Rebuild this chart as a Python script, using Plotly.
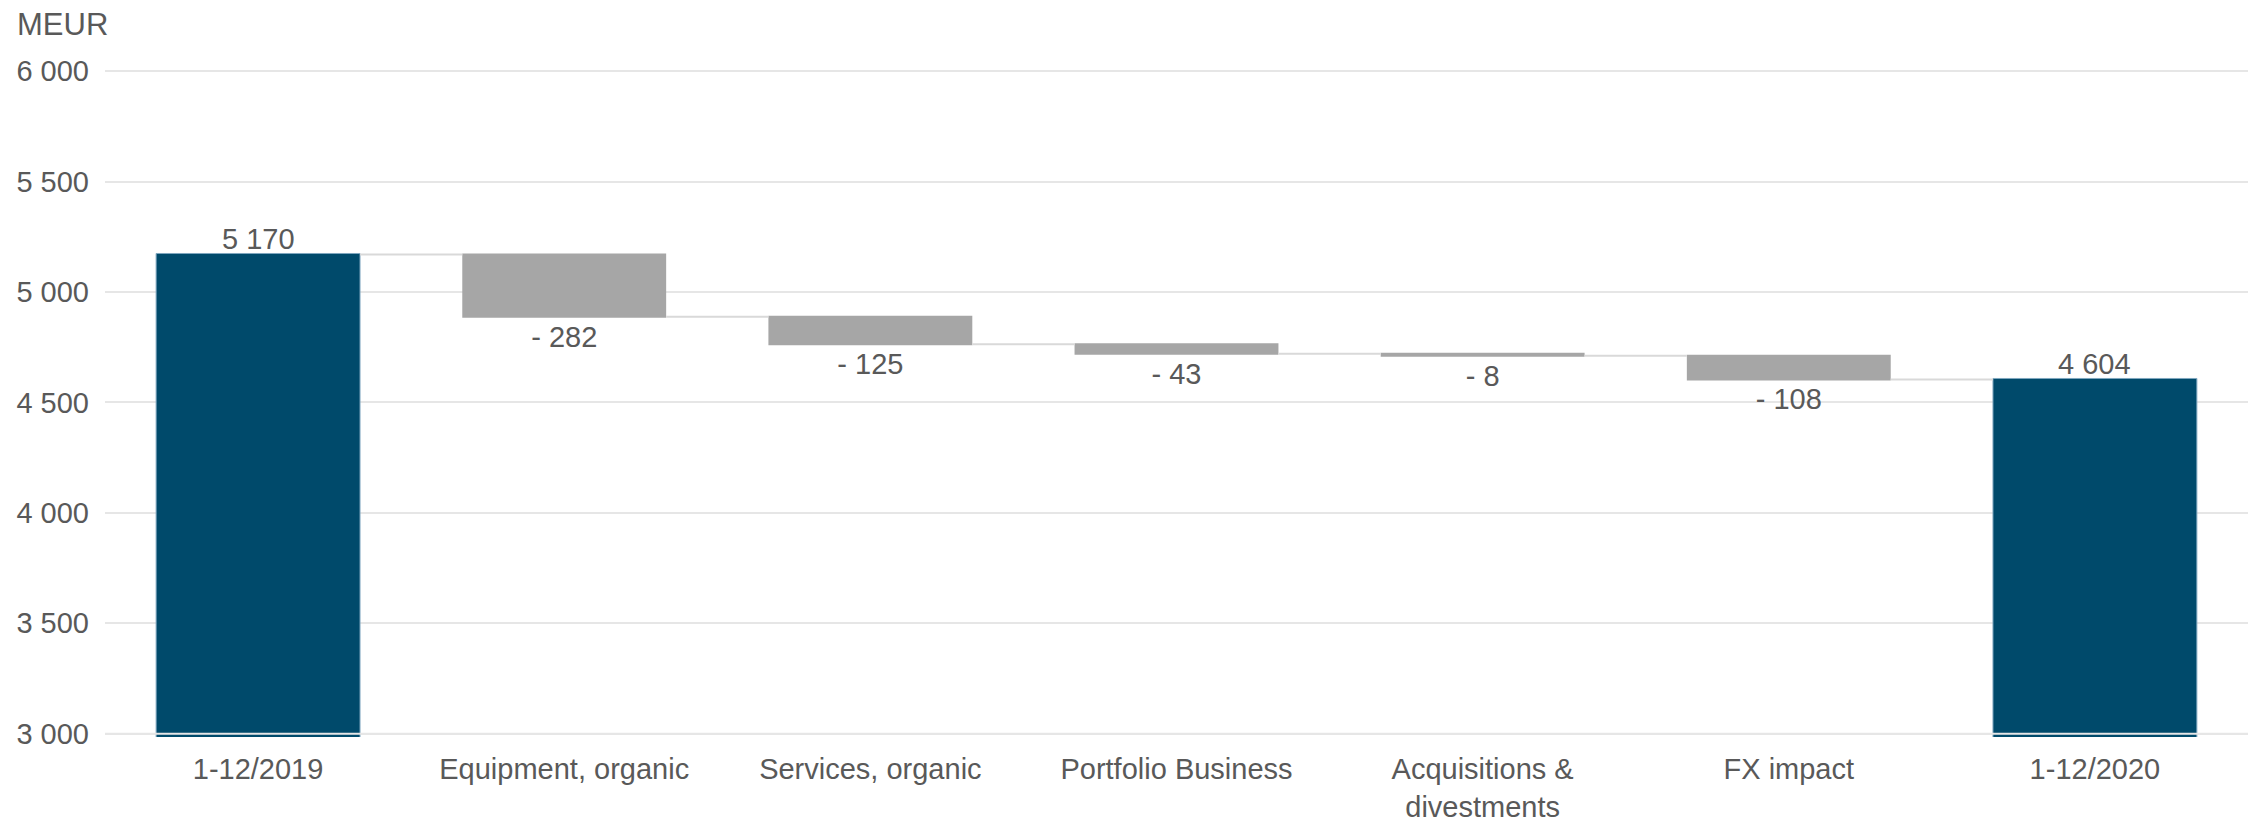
import plotly.graph_objects as go

categories = ["1-12/2019", "Equipment, organic", "Services, organic", "Portfolio Business",
              "Acquisitions &<br>divestments", "FX impact", "1-12/2020"]
measures = ["absolute", "relative", "relative", "relative", "relative", "relative", "total"]
values = [5170, -282, -125, -43, -8, -108, 0]
y_ticks = [3000, 3500, 4000, 4500, 5000, 5500, 6000]
y_tick_labels = ["3 000", "3 500", "4 000", "4 500", "5 000", "5 500", "6 000"]
unit_label = "MEUR"

TOTAL_COLOR = "#004a6b"
DELTA_COLOR = "#a6a6a6"
TEXT_COLOR = "#595959"
GRID_COLOR = "#e6e6e6"
FONT = "Liberation Sans, Arial, sans-serif"


def fmt_total(v):
    return f"{v:,}".replace(",", " ")


# build labels from values: deltas as trace text, totals as annotations
running = 0
labels = []
total_points = []
for c, m, v in zip(categories, measures, values):
    if m == "absolute":
        running = v
        labels.append("")
        total_points.append((c, running))
    elif m == "relative":
        running += v
        labels.append(("- " if v < 0 else "+ ") + str(abs(v)))
    else:
        labels.append("")
        total_points.append((c, running))

fig = go.Figure(go.Waterfall(
    x=categories,
    y=values,
    measure=measures,
    text=labels,
    textposition="outside",
    textfont=dict(family=FONT, size=29, color=TEXT_COLOR),
    width=0.666,
    totals=dict(marker=dict(color=TOTAL_COLOR, line=dict(color="#7fa6bf", width=1))),
    decreasing=dict(marker=dict(color=DELTA_COLOR, line=dict(width=0))),
    increasing=dict(marker=dict(color=DELTA_COLOR, line=dict(width=0))),
    connector=dict(line=dict(color="#d9d9d9", width=2)),
    cliponaxis=False,
    hoverinfo="x+y",
))

for c, tv in total_points:
    fig.add_annotation(x=c, y=tv, xref="x", yref="y", text=fmt_total(tv),
                       showarrow=False, yanchor="middle", yshift=15,
                       font=dict(family=FONT, size=29, color=TEXT_COLOR))

fig.add_shape(type="line", xref="paper", yref="y", x0=0, x1=1, y0=3000, y1=3000,
              line=dict(color=GRID_COLOR, width=2), layer="above")

fig.add_annotation(text=unit_label, xref="paper", yref="paper",
                   x=-0.042, y=1.0666, xanchor="left", yanchor="middle",
                   showarrow=False, font=dict(family=FONT, size=31, color=TEXT_COLOR))

fig.update_layout(
    width=2260, height=822,
    margin=dict(l=105, r=12, t=69, b=85),
    paper_bgcolor="white", plot_bgcolor="white",
    font=dict(family=FONT, size=29, color=TEXT_COLOR),
    showlegend=False,
    separators=". ",
)
fig.update_xaxes(showgrid=False, showline=False, ticks="", automargin=False,
                 tickfont=dict(size=29, color=TEXT_COLOR), ticklabelstandoff=12)
fig.update_yaxes(range=[2985, 6010], tickvals=y_ticks, ticktext=y_tick_labels, automargin=False,
                 showgrid=True, gridcolor=GRID_COLOR, gridwidth=1.5, zeroline=False,
                 showline=False, ticks="", ticklabelstandoff=15,
                 tickfont=dict(size=29, color=TEXT_COLOR))

fig.write_html("out.html", config={"displayModeBar": False},
               post_script="document.body.style.margin='0';document.body.style.overflow='hidden';")
